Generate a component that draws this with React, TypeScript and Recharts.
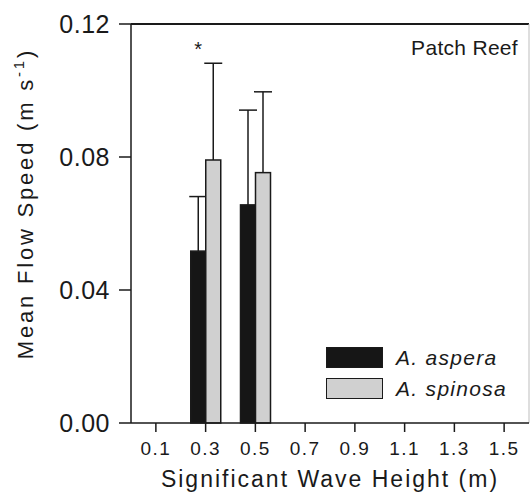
import React from 'react';
import {
  ComposedChart,
  Bar,
  XAxis,
  YAxis,
  ReferenceLine,
  ReferenceDot,
  Legend,
  Customized,
} from 'recharts';

const WAVE_HEIGHT = [0.3, 0.5];
const ASPERA_MEAN = [0.0517, 0.0656];
const ASPERA_ERR = [0.0164, 0.0285];
const SPINOSA_MEAN = [0.0791, 0.0753];
const SPINOSA_ERR = [0.0291, 0.0243];
const X_TICKS = [0.1, 0.3, 0.5, 0.7, 0.9, 1.1, 1.3, 1.5];
const Y_TICKS = [0, 0.04, 0.08, 0.12];
const SERIES_NAMES = ['A. aspera', 'A. spinosa'];
const SERIES_COLORS = ['#161616', '#d0d0d0'];

const FONT = '"Liberation Sans", Arial, Helvetica, sans-serif';
const INK = '#1a1a1a';

const data = WAVE_HEIGHT.map((h, i) => ({
  h,
  aspera: ASPERA_MEAN[i],
  asperaErr: ASPERA_ERR[i],
  spinosa: SPINOSA_MEAN[i],
  spinosaErr: SPINOSA_ERR[i],
}));

// bar with an upward-only error whisker, scaled off the bar's own height
const makeShape = (valueKey: string, errKey: string) => (props: any) => {
  const { x, y, width, height, fill, payload } = props;
  const value = payload[valueKey];
  const pxPerUnit = value ? height / value : 0;
  const top = y - payload[errKey] * pxPerUnit;
  const cx = x + width / 2;
  return (
    <g>
      <rect x={x} y={y} width={width} height={height} fill={fill} stroke={INK} strokeWidth={1.5} />
      <line x1={cx} y1={y} x2={cx} y2={top} stroke={INK} strokeWidth={1.5} />
      <line x1={cx - 9} y1={top} x2={cx + 9} y2={top} stroke={INK} strokeWidth={1.5} />
    </g>
  );
};

const renderYLabel = (props: any) => {
  const vb = props.viewBox;
  const cx = 33;
  const cy = vb.y + vb.height / 2 - 20;
  return (
    <text
      x={cx}
      y={cy}
      transform={`rotate(-90, ${cx}, ${cy})`}
      textAnchor="middle"
      fontFamily={FONT}
      fontSize={22}
      letterSpacing={2.8}
      fill={INK}
    >
      Mean Flow Speed (m s
      <tspan dy={-9} fontSize={15}>-1</tspan>
      <tspan dy={9}>)</tspan>
    </text>
  );
};

const renderXLabel = (props: any) => {
  const vb = props.viewBox;
  return (
    <text
      x={vb.x + vb.width / 2}
      y={vb.y + 64}
      textAnchor="middle"
      fontFamily={FONT}
      fontSize={23}
      letterSpacing={2}
      fill={INK}
    >
      Significant Wave Height (m)
    </text>
  );
};

const renderLegend = () => (
  <div style={{ fontFamily: FONT }}>
    {SERIES_NAMES.map((name, i) => (
      <div key={name} style={{ display: 'flex', alignItems: 'center', height: 31 }}>
        <span
          style={{
            display: 'inline-block',
            width: 57,
            height: 21,
            boxSizing: 'border-box',
            border: `1.5px solid ${INK}`,
            background: SERIES_COLORS[i],
          }}
        />
        <span style={{ marginLeft: 13, fontStyle: 'italic', fontSize: 21, letterSpacing: 1.3, color: INK }}>
          {name}
        </span>
      </div>
    ))}
  </div>
);

export default function App() {
  return (
    <div style={{ position: 'absolute', left: 0, top: 0, background: '#fff' }}>
      <ComposedChart
        width={530}
        height={495}
        data={data}
        margin={{ top: 24, right: 1, bottom: 0, left: 0 }}
        barGap={0}
        barCategoryGap={0}
      >
        <XAxis
          dataKey="h"
          type="number"
          domain={[0, 1.6]}
          ticks={X_TICKS}
          interval={0}
          height={72}
          tickSize={9}
          tickMargin={10}
          tickFormatter={(v: number) => v.toFixed(1)}
          axisLine={{ stroke: INK, strokeWidth: 1.5 }}
          tickLine={{ stroke: INK, strokeWidth: 1.5 }}
          tick={{ fontSize: 19, fill: INK, fontFamily: FONT, letterSpacing: 1.5 }}
          label={renderXLabel}
        />
        <YAxis
          type="number"
          domain={[0, 0.12]}
          ticks={Y_TICKS}
          interval={0}
          width={131}
          tickSize={12}
          tickMargin={9}
          tickFormatter={(v: number) => v.toFixed(2)}
          axisLine={{ stroke: INK, strokeWidth: 1.5 }}
          tickLine={{ stroke: INK, strokeWidth: 1.5 }}
          tick={{ fontSize: 25, fill: INK, fontFamily: FONT, letterSpacing: 0.5 }}
          label={renderYLabel}
        />
        <ReferenceLine y={0.12} stroke={INK} strokeWidth={2} />
        <ReferenceLine x={1.6} stroke="#bdbdbd" strokeWidth={1} />
        <Bar
          dataKey="aspera"
          name={SERIES_NAMES[0]}
          fill={SERIES_COLORS[0]}
          barSize={15}
          isAnimationActive={false}
          shape={makeShape('aspera', 'asperaErr')}
        />
        <Bar
          dataKey="spinosa"
          name={SERIES_NAMES[1]}
          fill={SERIES_COLORS[1]}
          barSize={15}
          isAnimationActive={false}
          shape={makeShape('spinosa', 'spinosaErr')}
        />
        <ReferenceDot
          x={0.27}
          y={0.1104}
          r={0}
          stroke="none"
          label={(p: any) => (
            <text
              x={p.viewBox.x + (p.viewBox.width || 0) / 2}
              y={p.viewBox.y + (p.viewBox.height || 0) / 2}
              textAnchor="middle"
              fontFamily={FONT}
              fontSize={20}
              fill={INK}
            >
              *
            </text>
          )}
        />
        <Customized
          component={() => (
            <text x={518} y={55} textAnchor="end" fontFamily={FONT} fontSize={21} letterSpacing={0.3} fill={INK}>
              Patch Reef
            </text>
          )}
        />
        <Legend
          layout="vertical"
          align="center"
          verticalAlign="middle"
          content={renderLegend}
          wrapperStyle={{ left: 326, top: 342, width: 200, margin: 0 }}
        />
      </ComposedChart>
    </div>
  );
}
